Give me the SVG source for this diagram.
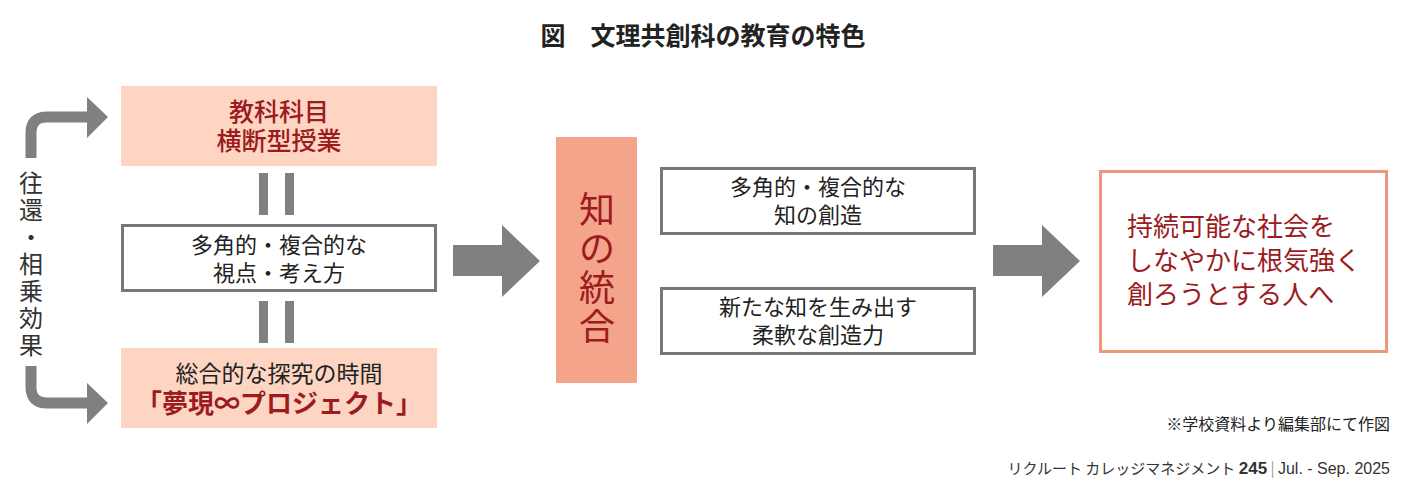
<svg xmlns="http://www.w3.org/2000/svg" width="1408" height="494" viewBox="0 0 1408 494">
<style>
text{font-family:"Noto Sans CJK JP","Noto Sans",sans-serif}
.pink{fill:#fdd5c2}
.red{fill:#9b1b1f}
.dark{fill:#222}
.gbox{fill:#fff;stroke:#77777a;stroke-width:3}
.bar{fill:#808083}
.c{text-anchor:middle}
</style>
<rect width="1408" height="494" fill="#fff"/>
<text x="703" y="45" class="c dark" font-size="25" font-weight="bold">図　文理共創科の教育の特色</text>
<g id="n-top"><rect class="pink" x="121" y="86" width="316" height="80"/>
<text x="279" y="121" class="c red" font-size="25" font-weight="500">教科科目</text>
<text x="279" y="150" class="c red" font-size="25" font-weight="500">横断型授業</text></g>
<g id="n-mid"><rect class="gbox" x="122.5" y="225.5" width="313" height="65"/>
<text x="279" y="253" class="c dark" font-size="22">多角的・複合的な</text>
<text x="279" y="281" class="c dark" font-size="22">視点・考え方</text></g>
<g id="n-bot"><rect class="pink" x="121" y="348" width="316" height="80"/>
<text x="279" y="382" class="c dark" font-size="23">総合的な探究の時間</text>
<text x="279" y="413" class="c red" font-size="26" font-weight="bold">「夢現∞プロジェクト」</text></g>
<g id="n-side"><text font-size="24" class="c" fill="#333">
<tspan x="31" y="192">往</tspan><tspan x="31" y="219">還</tspan><tspan x="31" y="246">・</tspan><tspan x="31" y="273">相</tspan><tspan x="31" y="300">乗</tspan><tspan x="31" y="327">効</tspan><tspan x="31" y="354">果</tspan></text></g>
<g id="n-int"><rect x="556" y="137" width="81" height="246" fill="#f4a48a"/>
<text class="c red" font-size="36"><tspan x="597" y="223">知</tspan><tspan x="597" y="262">の</tspan><tspan x="597" y="301">統</tspan><tspan x="597" y="340">合</tspan></text></g>
<g id="n-c1"><rect class="gbox" x="661.5" y="168.5" width="313" height="65"/>
<text x="818" y="195" class="c dark" font-size="22">多角的・複合的な</text>
<text x="818" y="223" class="c dark" font-size="22">知の創造</text></g>
<g id="n-c2"><rect class="gbox" x="661.5" y="288.5" width="313" height="65"/>
<text x="818" y="315" class="c dark" font-size="22">新たな知を生み出す</text>
<text x="818" y="343" class="c dark" font-size="22">柔軟な創造力</text></g>
<g id="n-goal"><rect x="1100.5" y="171.5" width="286" height="180" fill="#fff" stroke="#f0967a" stroke-width="3"/>
<text x="1127" y="236" class="red" font-size="26">持続可能な社会を</text>
<text x="1127" y="270" class="red" font-size="26">しなやかに根気強く</text>
<text x="1127" y="304" class="red" font-size="26">創ろうとする人へ</text></g>
<g id="connectors">
<rect class="bar" x="259" y="173" width="9" height="42"/><rect class="bar" x="285" y="173" width="9" height="42"/>
<rect class="bar" x="259" y="301" width="9" height="42"/><rect class="bar" x="285" y="301" width="9" height="42"/>
<path d="M31 158 V133 Q31 117 47 117 H90" fill="none" stroke="#808083" stroke-width="11"/>
<polygon class="bar" points="87,97 108,117 87,138"/>
<path d="M31 366 V387 Q31 403 47 403 H90" fill="none" stroke="#808083" stroke-width="11"/>
<polygon class="bar" points="87,383 108,403 87,424"/>
<polygon class="bar" points="453,245 502,245 502,225 540,261 502,297 502,276 453,276"/>
<polygon class="bar" points="993,245 1042,245 1042,225 1080,261 1042,297 1042,276 993,276"/>
</g>
<text x="1390" y="430" text-anchor="end" class="dark" font-size="16">※学校資料より編集部にて作図</text>
<text x="1390" y="474" text-anchor="end" fill="#333" font-size="15">リクルート カレッジマネジメント <tspan font-weight="bold" font-family="Liberation Sans,sans-serif" font-size="17">245</tspan>  <tspan fill="#999">|</tspan>  <tspan font-family="Liberation Sans,sans-serif" font-size="16">Jul. - Sep. 2025</tspan></text>
</svg>
